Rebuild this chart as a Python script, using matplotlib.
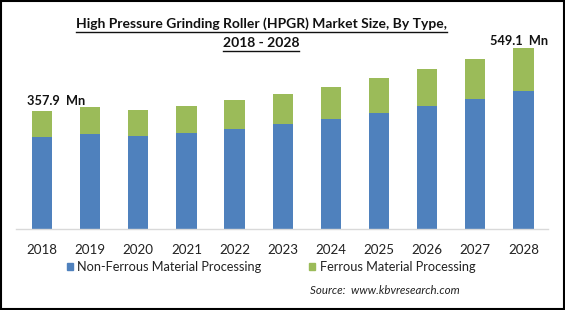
import matplotlib
matplotlib.use("Agg")
import matplotlib.pyplot as plt
from matplotlib.patches import Rectangle

years = ["2018", "2019", "2020", "2021", "2022", "2023", "2024", "2025", "2026", "2027", "2028"]
non_ferrous = [279, 288, 282, 292, 303, 319, 334, 352, 373, 394, 419]
totals = [357.9, 370, 361, 374, 391, 409, 431, 458, 485, 516, 549.1]
ferrous = [round(t - n, 1) for t, n in zip(totals, non_ferrous)]

series_names = ["Non-Ferrous Material Processing", "Ferrous Material Processing"]
colors = ["#4F81BD", "#9BBB59"]
first_label = "357.9  Mn"
last_label = "549.1  Mn"

plt.rcParams['font.family'] = ['Lato', 'DejaVu Sans']

W, H = 565, 310
fig = plt.figure(figsize=(W / 100, H / 100), dpi=100)

ax = fig.add_axes([16 / W, (H - 229) / H, 532 / W, (229 - 40) / H])
x = list(range(len(years)))
ax.bar(x, non_ferrous, width=0.42, color=colors[0])
ax.bar(x, ferrous, width=0.42, bottom=non_ferrous, color=colors[1])
ax.set_xlim(-0.54, 10.51)
ax.set_ylim(0, 573)
for s in ["top", "right", "left"]:
    ax.spines[s].set_visible(False)
ax.spines["bottom"].set_color("#D9D9D9")
ax.spines["bottom"].set_linewidth(1.0)
ax.set_yticks([])
ax.set_xticks(x)
ax.set_xticklabels(years, fontsize=9.6, color="#222222")
ax.tick_params(axis="x", length=0, pad=11)

ax.text(x[0] - 0.32, totals[0] + 12, first_label, fontsize=9.2, fontweight="bold",
        ha="left", va="bottom", color="#111111")
ax.text(x[-1] + 0.52, totals[-1] + 4, last_label, fontsize=9.2, fontweight="bold",
        ha="right", va="bottom", color="#111111")

t1 = fig.text(261 / W, 1 - 24 / H, "High Pressure Grinding Roller (HPGR) Market Size, By Type,",
              fontsize=10, fontweight="bold", ha="center", va="center", color="#111111")
t2 = fig.text(261 / W, 1 - 43 / H, "2018 - 2028",
              fontsize=10, fontweight="bold", ha="center", va="center", color="#111111")
fig.canvas.draw()
r = fig.canvas.get_renderer()
for t, yy in [(t1, 32), (t2, 51)]:
    bb = t.get_window_extent(renderer=r)
    fig.add_artist(plt.Line2D([bb.x0 / W, bb.x1 / W], [1 - yy / H, 1 - yy / H], color="#111111", lw=1))

# legend
ly = 1 - 267 / H
fig.add_artist(Rectangle((67 / W, ly - 3 / H), 6 / W, 7 / H, color=colors[0], transform=fig.transFigure))
fig.text(77 / W, ly, series_names[0], fontsize=9.2, ha="left", va="center", color="#222222")
fig.add_artist(Rectangle((309 / W, ly - 3 / H), 6 / W, 7 / H, color=colors[1], transform=fig.transFigure))
fig.text(320 / W, ly, series_names[1], fontsize=9.2, ha="left", va="center", color="#222222")

fig.text(310 / W, 1 - 291 / H, "Source:  www.kbvresearch.com", fontsize=8.3, style="italic",
         ha="left", va="center", color="#222222")

fig.add_artist(Rectangle((0.002, 0.003), 0.996, 0.994, fill=False, edgecolor="black", lw=1.5,
                         transform=fig.transFigure))

fig.savefig("out.png", dpi=100)
